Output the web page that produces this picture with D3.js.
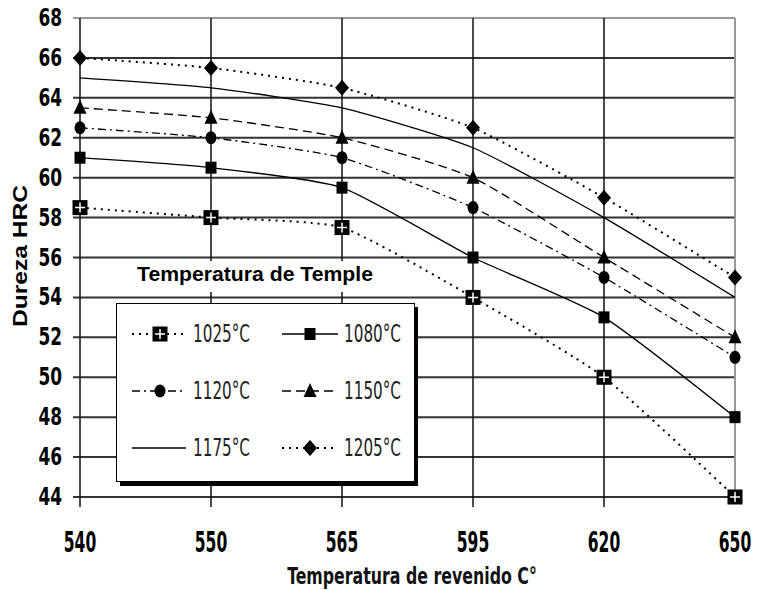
<!DOCTYPE html>
<html>
<head>
<meta charset="utf-8">
<script src="https://cdn.jsdelivr.net/npm/d3@7"></script>
<style>
  body { margin: 0; background: #fff; }
  svg { display: block; }
</style>
</head>
<body>
<svg id="chart" width="765" height="590"></svg>
<script>
// tempering temperature (x categories)
var categories = ['540', '550', '565', '595', '620', '650'];
var yTicks = [44, 46, 48, 50, 52, 54, 56, 58, 60, 62, 64, 66, 68];

// hardness per quench temperature
var s1025 = [58.5, 58, 57.5, 54, 50, 44];
var s1080 = [61, 60.5, 59.5, 56, 53, 48];
var s1120 = [62.5, 62, 61, 58.5, 55, 51];
var s1150 = [63.5, 63, 62, 60, 56, 52];
var s1175 = [65, 64.5, 63.5, 61.5, 58, 54];
var s1205 = [66, 65.5, 64.5, 62.5, 59, 55];

var seriesNames = ['1025°C', '1080°C', '1120°C', '1150°C', '1175°C', '1205°C'];

var narrow = '"Liberation Sans Narrow", "DejaVu Sans Condensed", Arial, sans-serif';

var series = [
  { name: seriesNames[0], values: s1025, dash: '2,5', marker: 'plusbox' },
  { name: seriesNames[1], values: s1080, dash: null, marker: 'square' },
  { name: seriesNames[2], values: s1120, dash: '8,4,2,4', marker: 'circle' },
  { name: seriesNames[3], values: s1150, dash: '9,5', marker: 'triangle' },
  { name: seriesNames[4], values: s1175, dash: null, marker: null },
  { name: seriesNames[5], values: s1205, dash: '2,5', marker: 'diamond' }
];

var svg = d3.select('#chart');
var pLeft = 80, pRight = 735, pTop = 18, pBottom = 497;

var x = d3.scalePoint().domain(categories).range([pLeft, pRight]).padding(0);
var y = d3.scaleLinear().domain([44, 68]).range([pBottom, pTop]);

// grid
var grid = svg.append('g');
grid.selectAll('.hgrid').data(yTicks).enter().append('line')
  .attr('x1', pLeft - 7).attr('x2', pRight)
  .attr('y1', function(d) { return y(d); }).attr('y2', function(d) { return y(d); })
  .attr('stroke', function(d) { return d == 68 ? '#999' : '#333'; })
  .attr('stroke-width', 2);
grid.selectAll('.vgrid').data(categories).enter().append('line')
  .attr('x1', function(d) { return x(d); }).attr('x2', function(d) { return x(d); })
  .attr('y1', pTop).attr('y2', function(d, i) { return i == categories.length - 1 ? pBottom : pBottom + 10; })
  .attr('stroke', function(d, i) { return i == categories.length - 1 ? '#999' : '#111'; })
  .attr('stroke-width', 1.5);
grid.append('line').attr('x1', pRight).attr('x2', pRight).attr('y1', pTop).attr('y2', pBottom)
  .attr('stroke', '#999').attr('stroke-width', 2);

// title box "Temperatura de Temple"
svg.append('rect').attr('x', 128).attr('y', 261).attr('width', 255).attr('height', 31).attr('fill', '#fff');
svg.append('text').attr('x', 137).attr('y', 281)
  .style('font-family', 'Arial, "Liberation Sans", sans-serif').style('font-weight', 'bold').style('font-size', '20px')
  .attr('textLength', 236).attr('lengthAdjust', 'spacingAndGlyphs')
  .text('Temperatura de Temple');

// axes labels
svg.append('g').selectAll('text').data(yTicks).enter().append('text')
  .attr('transform', function(d) { return 'translate(62,' + (y(d) + 8) + ') scale(0.82,1.08)'; })
  .attr('text-anchor', 'end')
  .style('font-family', narrow).style('font-weight', 'bold').style('font-size', '23px')
  .text(function(d) { return d; });

svg.append('g').selectAll('text').data(categories).enter().append('text')
  .attr('transform', function(d) { return 'translate(' + x(d) + ',552) scale(0.72,1.15)'; })
  .attr('text-anchor', 'middle')
  .style('font-family', narrow).style('font-weight', 'bold').style('font-size', '24px')
  .text(function(d) { return d; });

svg.append('text')
  .attr('transform', 'translate(412,584) scale(0.8,1.1)')
  .attr('text-anchor', 'middle')
  .style('font-family', narrow).style('font-size', '21px').style('font-weight', 'bold').attr('fill', '#111')
  .attr('textLength', 312).attr('lengthAdjust', 'spacingAndGlyphs')
  .text('Temperatura de revenido C°');

svg.append('text')
  .attr('transform', 'translate(27,256) rotate(-90)')
  .attr('text-anchor', 'middle')
  .style('font-family', 'Arial, "Liberation Sans", sans-serif').style('font-weight', 'bold').style('font-size', '21px')
  .attr('textLength', 142).attr('lengthAdjust', 'spacingAndGlyphs')
  .text('Dureza HRC');

// markers
function drawMarker(g, type, cx, cy) {
  if (type == 'plusbox') {
    g.append('rect').attr('x', cx - 7.5).attr('y', cy - 7.5).attr('width', 15).attr('height', 15).attr('fill', '#000');
    g.append('path').attr('d', 'M' + (cx - 5) + ',' + cy + 'H' + (cx + 5) + 'M' + cx + ',' + (cy - 5) + 'V' + (cy + 5))
      .attr('stroke', '#fff').attr('stroke-width', 1.5);
  } else if (type == 'square') {
    g.append('rect').attr('x', cx - 5.5).attr('y', cy - 6).attr('width', 11).attr('height', 12).attr('fill', '#000');
  } else if (type == 'circle') {
    g.append('ellipse').attr('cx', cx).attr('cy', cy).attr('rx', 5.5).attr('ry', 6.5).attr('fill', '#000');
  } else if (type == 'triangle') {
    g.append('path').attr('d', 'M' + cx + ',' + (cy - 8) + 'L' + (cx + 6.5) + ',' + (cy + 6) + 'L' + (cx - 6.5) + ',' + (cy + 6) + 'Z').attr('fill', '#000');
  } else if (type == 'diamond') {
    g.append('path').attr('d', 'M' + cx + ',' + (cy - 8) + 'L' + (cx + 7) + ',' + cy + 'L' + cx + ',' + (cy + 8) + 'L' + (cx - 7) + ',' + cy + 'Z').attr('fill', '#000');
  }
}

var line = d3.line()
  .x(function(d, i) { return x(categories[i]); })
  .y(function(d) { return y(d); })
  .curve(d3.curveCardinal.tension(0.45));

var plot = svg.append('g');
series.forEach(function(s) {
  plot.append('path').datum(s.values)
    .attr('d', line)
    .attr('fill', 'none')
    .attr('stroke', '#000')
    .attr('stroke-width', s.dash == '2,5' ? 2 : 1.3)
    .attr('stroke-dasharray', s.dash);
});
series.forEach(function(s) {
  if (!s.marker) return;
  var g = plot.append('g');
  s.values.forEach(function(v, i) { drawMarker(g, s.marker, x(categories[i]), y(v)); });
});

// legend
var lg = svg.append('g');
lg.append('rect').attr('x', 120).attr('y', 307).attr('width', 298).attr('height', 179).attr('fill', '#000');
lg.append('rect').attr('x', 116.5).attr('y', 303.5).attr('width', 298).attr('height', 178)
  .attr('fill', '#fff').attr('stroke', '#000').attr('stroke-width', 1);

var rowsY = [334, 391, 448];
var colX = [{ x1: 132, x2: 186, m: 160, t: 193 }, { x1: 282, x2: 338, m: 310, t: 344 }];
series.forEach(function(s, i) {
  var r = Math.floor(i / 2), c = i % 2;
  var cy = rowsY[r], col = colX[c];
  lg.append('line').attr('x1', col.x1).attr('x2', col.x2).attr('y1', cy).attr('y2', cy)
    .attr('stroke', '#000').attr('stroke-width', s.dash == '2,5' ? 2 : 1.3)
    .attr('stroke-dasharray', s.dash);
  if (s.marker) drawMarker(lg, s.marker, col.m, cy);
  lg.append('text')
    .attr('transform', 'translate(' + col.t + ',' + (cy + 8) + ') scale(0.77,1.1)')
    .style('font-family', narrow).style('font-size', '22px').attr('fill', '#222')
    .text(s.name);
});
</script>
</body>
</html>
